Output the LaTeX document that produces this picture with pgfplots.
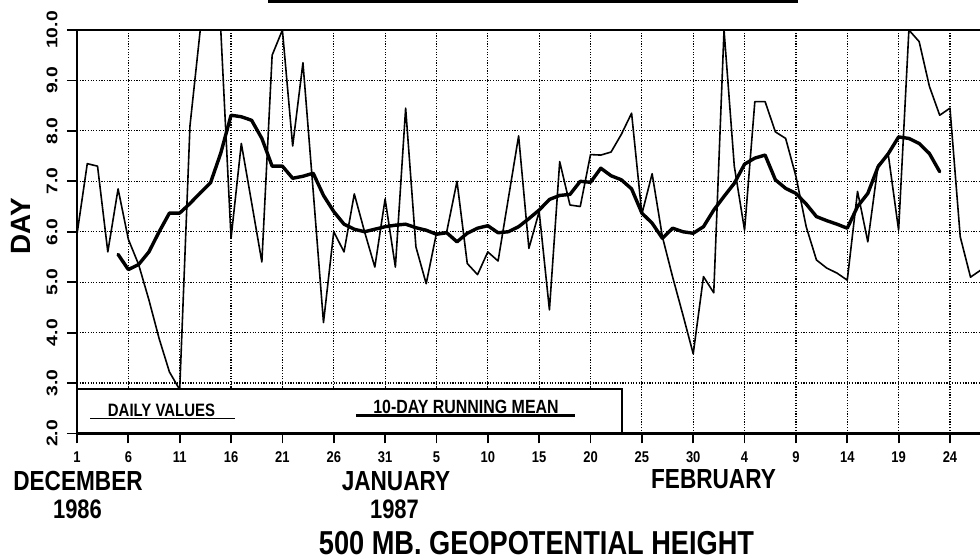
\documentclass[border=0pt]{standalone}
\usepackage{pgfplots}
\pgfplotsset{compat=1.18}
\usepackage{pgfplotstable}
\usepackage{graphicx}
\usepackage{fontspec}
\setmainfont{Liberation Sans}

\pgfplotstableread{
d v
0 5.95
1 7.35
2 7.3
3 5.6
4 6.85
5 5.85
6 5.35
7 4.65
8 3.88
9 3.22
10 2.87
11 8.1
12 10.0
13 10.8
14 10.0
15 5.87
16 7.75
17 6.58
18 5.4
19 9.5
20 10.0
21 7.7
22 9.35
23 6.8
24 4.2
25 6.0
26 5.6
27 6.75
28 6.0
29 5.3
30 6.65
31 5.3
32 8.45
33 5.7
34 4.97
35 5.97
36 6.0
37 7.0
38 5.37
39 5.15
40 5.6
41 5.42
42 6.66
43 7.9
44 5.67
45 6.4
46 4.45
47 7.39
48 6.53
49 6.5
50 7.53
51 7.52
52 7.58
53 7.93
54 8.35
55 6.35
56 7.15
57 5.9
58 5.1
59 4.35
60 3.58
61 5.11
62 4.79
63 10.0
64 7.3
65 6.03
66 8.58
67 8.58
68 7.98
69 7.85
70 7.1
71 6.1
72 5.44
73 5.28
74 5.18
75 5.04
76 6.8
77 5.8
78 7.32
79 7.52
80 6.03
81 10.0
82 9.77
83 8.88
84 8.31
85 8.45
86 5.9
87 5.1
88 5.24
}\daily

\pgfplotstableread{
d v
4 5.55
5 5.25
6 5.35
7 5.6
8 6.0
9 6.37
10 6.37
11 6.56
12 6.77
13 6.97
14 7.56
15 8.31
16 8.28
17 8.21
18 7.85
19 7.3
20 7.3
21 7.06
22 7.1
23 7.16
24 6.72
25 6.4
26 6.15
27 6.05
28 6.0
29 6.05
30 6.1
31 6.13
32 6.15
33 6.08
34 6.03
35 5.95
36 5.98
37 5.8
38 5.97
39 6.07
40 6.12
41 5.98
42 6.0
43 6.1
44 6.26
45 6.43
46 6.64
47 6.72
48 6.74
49 7.0
50 6.98
51 7.26
52 7.11
53 7.03
54 6.85
55 6.37
56 6.17
57 5.87
58 6.07
59 6.0
60 5.97
61 6.1
62 6.43
63 6.7
64 6.96
65 7.34
66 7.46
67 7.52
68 7.03
69 6.86
70 6.76
71 6.55
72 6.3
73 6.22
74 6.15
75 6.07
76 6.5
77 6.76
78 7.29
79 7.55
80 7.88
81 7.85
82 7.75
83 7.55
84 7.19
}\mean

\newcommand{\yl}[1]{\scalebox{1.25}[1]{#1}}
\newcommand{\xl}[1]{\scalebox{1}[1.2]{#1}}
\newcommand{\tall}[1]{\scalebox{1}[1.22]{#1}}

\begin{document}
\begin{tikzpicture}[x=1bp,y=1bp]
\useasboundingbox (0,0) rectangle (980,560);
\begin{axis}[
  at={(77bp,126.5bp)}, anchor=south west,
  scale only axis, width=908.9bp, height=403.5bp,
  xmin=0, xmax=88.5, ymin=2, ymax=10,
  xtick={0,5,...,85},
  xticklabels={\xl{1},\xl{6},\xl{11},\xl{16},\xl{21},\xl{26},\xl{31},\xl{5},\xl{10},\xl{15},\xl{20},\xl{25},\xl{30},\xl{4},\xl{9},\xl{14},\xl{19},\xl{24}},
  ytick={2,3,...,10},
  yticklabels={\yl{2.0},\yl{3.0},\yl{4.0},\yl{5.0},\yl{6.0},\yl{7.0},\yl{8.0},\yl{9.0},\yl{10.0}},
  tick pos=left, tick align=outside, major tick length=10bp,
  every tick/.style={black, line width=1.8bp},
  axis line style={black, line width=2.2bp},
  grid=major,
  major grid style={black, line width=1.2bp, dash pattern=on 1.2bp off 1.5bp},
  xticklabel style={font=\fontsize{13}{14}\selectfont\bfseries, anchor=center, yshift=-14bp},
  yticklabel style={font=\fontsize{15.5}{17}\selectfont\bfseries, anchor=center, xshift=-15bp, rotate=90},
]
\addplot[black, line width=1.6bp, line join=round, mark=none] table[x=d, y=v]{\daily};
\addplot[black, line width=3.4bp, line join=round, line cap=round, mark=none] table[x=d, y=v]{\mean};
\draw[black, line width=2bp, fill=white] (axis cs:0,2) rectangle (axis cs:53.07,2.88);
\end{axis}

% legend texts
\node[font=\fontsize{15}{17}\selectfont\bfseries] at (161.5,150) {\xl{DAILY VALUES}};
\draw[black, line width=1.5bp] (90,141.5) -- (235,141.5);
\node[font=\fontsize{16}{18}\selectfont\bfseries] at (466,153.3) {\xl{10-DAY RUNNING MEAN}};
\draw[black, line width=3bp] (356,144) -- (575,144);

% y label
\node[font=\fontsize{28}{30}\selectfont\bfseries, rotate=90] at (21,334) {DAY};

% month labels
\node[font=\fontsize{22.7}{26}\selectfont\bfseries] at (78,79) {\tall{DECEMBER}};
\node[font=\fontsize{22}{26}\selectfont\bfseries] at (77.5,51) {\tall{1986}};
\node[font=\fontsize{22.7}{26}\selectfont\bfseries] at (396,79) {\tall{JANUARY}};
\node[font=\fontsize{22}{26}\selectfont\bfseries] at (394.5,51) {\tall{1987}};
\node[font=\fontsize{22.7}{26}\selectfont\bfseries] at (713.5,81) {\tall{FEBRUARY}};
\node[font=\fontsize{27.3}{30}\selectfont\bfseries] at (536.5,17) {\tall{500 MB. GEOPOTENTIAL HEIGHT}};

% cut-off title rule
\draw[black, line width=2.5bp] (268,558.5) -- (798,558.5);
\end{tikzpicture}
\end{document}
